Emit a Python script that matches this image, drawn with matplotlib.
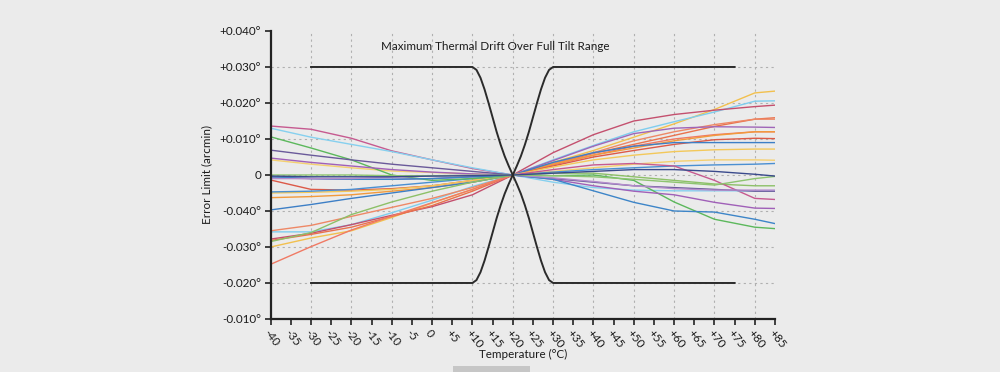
import numpy as np
import matplotlib.pyplot as plt
from matplotlib.patches import Rectangle

plt.rcParams['font.family'] = ['Lato', 'DejaVu Sans']

# temperature samples (deg C) for the drift curves
temps = [-40, -30, -20, -10, 0, 10, 20, 30, 40, 50, 60, 70, 80, 85]

# drift curves, in units of 0.01 deg
yellow_hi = [-2.00, -1.75, -1.55, -1.18, -0.78, -0.40, 0, 0.35, 0.68, 1.05, 1.42, 1.82, 2.28, 2.33]
lightblue_hi = [-1.58, -1.58, -1.38, -1.05, -0.70, -0.32, 0, 0.42, 0.82, 1.20, 1.48, 1.75, 2.05, 2.06]
crimson_hi = [-1.78, -1.62, -1.38, -1.12, -0.88, -0.55, 0, 0.62, 1.12, 1.50, 1.68, 1.80, 1.90, 1.94]
orange_red = [-1.82, -1.65, -1.45, -1.15, -0.85, -0.45, 0, 0.30, 0.60, 0.85, 1.10, 1.35, 1.55, 1.59]
salmon = [-1.55, -1.40, -1.15, -0.90, -0.65, -0.35, 0, 0.32, 0.62, 0.95, 1.20, 1.40, 1.55, 1.55]
salmon_red = [-2.48, -1.99, -1.53, -1.14, -0.77, -0.40, 0, 0.28, 0.55, 0.80, 1.00, 1.12, 1.20, 1.20]
purple_hi = [-0.08, -0.10, -0.12, -0.12, -0.10, -0.05, 0, 0.40, 0.80, 1.15, 1.30, 1.34, 1.33, 1.32]
orange_mid = [-0.63, -0.60, -0.55, -0.45, -0.35, -0.20, 0, 0.30, 0.55, 0.75, 0.95, 1.10, 1.20, 1.20]
red_mid = [-0.14, -0.40, -0.42, -0.38, -0.30, -0.15, 0, 0.25, 0.50, 0.68, 0.85, 0.98, 1.02, 1.01]
blue_hi = [-0.97, -0.82, -0.65, -0.50, -0.35, -0.20, 0, 0.35, 0.62, 0.80, 0.90, 0.90, 0.90, 0.90]
yellow_mid = [-0.50, -0.48, -0.45, -0.40, -0.30, -0.15, 0, 0.22, 0.42, 0.55, 0.65, 0.70, 0.72, 0.72]
yellow_lo = [0.42, 0.30, 0.20, 0.11, 0.07, 0.03, 0, 0.10, 0.20, 0.30, 0.38, 0.42, 0.42, 0.41]
blue_lo = [-0.47, -0.45, -0.40, -0.30, -0.20, -0.10, 0, 0.08, 0.15, 0.20, 0.25, 0.28, 0.30, 0.32]
green_lo = [-1.85, -1.60, -1.10, -0.75, -0.45, -0.20, 0, 0.05, 0.05, -0.05, -0.15, -0.25, -0.30, -0.30]
magenta = [1.36, 1.27, 1.02, 0.67, 0.42, 0.18, 0, 0.15, 0.28, 0.32, 0.25, -0.15, -0.65, -0.68]
lightblue_lo = [1.30, 1.05, 0.85, 0.65, 0.42, 0.20, 0, -0.20, -0.35, -0.42, -0.44, -0.44, -0.44, -0.44]
green_hi = [1.06, 0.75, 0.42, 0.00, -0.15, -0.10, 0, -0.02, 0.00, -0.15, -0.75, -1.23, -1.45, -1.49]
slate = [0.69, 0.55, 0.42, 0.30, 0.20, 0.10, 0, -0.10, -0.20, -0.30, -0.35, -0.40, -0.45, -0.45]
purple_lo = [0.47, 0.35, 0.25, 0.15, 0.08, 0.03, 0, -0.12, -0.30, -0.45, -0.55, -0.76, -0.92, -0.93]
blue_down = [-0.05, -0.10, -0.12, -0.12, -0.10, -0.05, 0, -0.12, -0.44, -0.76, -1.00, -1.03, -1.23, -1.35]
lavender = [-0.10, -0.10, -0.10, -0.06, -0.03, 0.00, 0, -0.08, -0.18, -0.30, -0.38, -0.42, -0.42, -0.42]
green_flat = [0.00, 0.00, 0.00, -0.02, -0.02, -0.01, 0, -0.02, -0.05, -0.12, -0.20, -0.28, -0.10, -0.04]
navy = [-0.03, -0.05, -0.05, -0.05, -0.03, -0.02, 0, 0.05, 0.10, 0.15, 0.15, 0.10, 0.02, -0.03]

curves = [
    (yellow_hi, '#f2c04e'), (lightblue_hi, '#7fcdee'), (crimson_hi, '#c4506e'),
    (orange_red, '#e9724c'), (salmon, '#ee8866'), (salmon_red, '#f07a64'),
    (purple_hi, '#a066b8'), (orange_mid, '#f29a3c'), (red_mid, '#dc5a48'),
    (blue_hi, '#3d7fc6'), (yellow_mid, '#f3c85a'), (yellow_lo, '#f5d070'),
    (blue_lo, '#4a8fd2'), (green_lo, '#8dc068'), (magenta, '#c65a90'),
    (lightblue_lo, '#86d0ef'), (green_hi, '#5cb85c'), (slate, '#6a5a9a'),
    (purple_lo, '#a060b8'), (blue_down, '#3d85c8'), (lavender, '#b48ccc'),
    (green_flat, '#8dc470'), (navy, '#3a4a8c'),
]

# black limit envelope
env_temps = [-30, 10, 11, 12, 13, 14, 15, 16, 17, 18, 19, 20,
             21, 22, 23, 24, 25, 26, 27, 28, 29, 30, 75]
env_upper = [3.0, 3.0, 2.92, 2.70, 2.38, 2.00, 1.60, 1.20, 0.84, 0.52, 0.25, 0.0,
             -0.25, -0.52, -0.84, -1.20, -1.60, -2.00, -2.38, -2.70, -2.92, -3.0, -3.0]
env_lower = [-v for v in env_upper]

x_ticks = list(range(-40, 90, 5))
x_labels = [str(t) if t <= 0 else '+%d' % t for t in x_ticks]
y_ticks = [4, 3, 2, 1, 0, -1, -2, -3, -4]
y_labels = ['+0.040°', '+0.030°', '+0.020°', '+0.010°', '0',
            '-0.040°', '-0.030°', '-0.020°', '-0.010°']

bg = '#ebebeb'
fs = 8.4
ink = '#1a1a1a'
fig = plt.figure(figsize=(10, 3.72), dpi=100, facecolor=bg)
ax = fig.add_axes([0.2707, 0.1425, 0.5043, 0.7742], facecolor=bg)

for vals, col in curves:
    ax.plot(temps, vals, color=col, lw=1.0, solid_capstyle='round')

ax.plot(env_temps, env_upper, color='#2b2b2b', lw=1.4)
ax.plot(env_temps, env_lower, color='#2b2b2b', lw=1.4)

ax.set_xlim(-40, 85)
ax.set_ylim(-4, 4)
ax.set_xticks(x_ticks)
ax.set_xticklabels(x_labels, rotation=-52, ha='left', va='top',
                   rotation_mode='anchor', fontsize=fs, color=ink)
ax.set_yticks(y_ticks)
ax.set_yticklabels(y_labels, fontsize=fs, color=ink)

ax.grid(False)
for t in range(-30, 90, 10):
    ax.axvline(t, color='#b0b0b0', lw=0.8, ls=(0, (2, 3)), zorder=0)
for v in [3, 2, 1, 0, -1, -2, -3]:
    ax.axhline(v, color='#b0b0b0', lw=0.8, ls=(0, (2, 3)), zorder=0)

for s in ['top', 'right']:
    ax.spines[s].set_visible(False)
for s in ['left', 'bottom']:
    ax.spines[s].set_linewidth(1.6)
    ax.spines[s].set_color('#222222')
ax.tick_params(axis='both', which='major', length=4, width=1.2, color='#222222', pad=3)
ax.tick_params(axis='x', which='major', pad=2)

ax.text(0.445, 0.965, 'Maximum Thermal Drift Over Full Tilt Range', transform=ax.transAxes,
        ha='center', va='top', fontsize=fs, color=ink)
ax.set_ylabel('Error Limit (arcmin)', fontsize=fs, color=ink, labelpad=5)
ax.set_xlabel('Temperature (°C)', fontsize=fs, color=ink, labelpad=-1)

fig.patches.append(Rectangle((0.453, 0.0), 0.077, 0.016, transform=fig.transFigure,
                             facecolor='#c6c6c6', edgecolor='none'))

fig.savefig('out.png', dpi=100, facecolor=bg)
